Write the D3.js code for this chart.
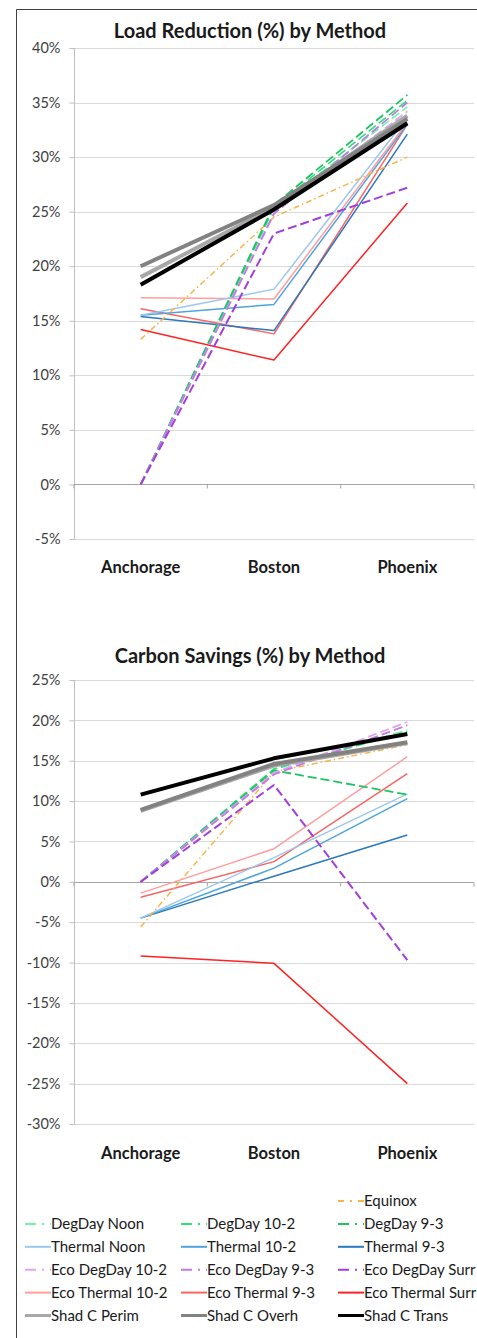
<!DOCTYPE html>
<html><head><meta charset="utf-8">
<script src="https://cdn.jsdelivr.net/npm/d3@7"></script>
<style>body{margin:0;background:#fff}svg{display:block}text{font-family:Lato,"Open Sans",sans-serif}</style>
</head><body>
<svg id="c" width="477" height="1338"></svg>
<script>
const categories = ["Anchorage","Boston","Phoenix"];
const seriesNames = ["Equinox","DegDay Noon","DegDay 10-2","DegDay 9-3","Thermal Noon","Thermal 10-2","Thermal 9-3","Eco DegDay 10-2","Eco DegDay 9-3","Eco DegDay Surr","Eco Thermal 10-2","Eco Thermal 9-3","Eco Thermal Surr","Shad C Perim","Shad C Overh","Shad C Trans"];
// Load reduction (%)
const loadEquinox=[13.3,24.5,30.0];
const loadDegDayNoon=[0,25.3,34.6];
const loadDegDay102=[0,25.4,35.2];
const loadDegDay93=[0,25.6,35.7];
const loadThermalNoon=[15.5,17.9,33.6];
const loadThermal102=[15.5,16.5,33.0];
const loadThermal93=[15.4,14.1,32.1];
const loadEcoDegDay102=[0,24.9,34.2];
const loadEcoDegDay93=[0,24.8,35.0];
const loadEcoDegDaySurr=[0,23.0,27.2];
const loadEcoThermal102=[17.1,17.0,33.2];
const loadEcoThermal93=[16.1,13.8,33.0];
const loadEcoThermalSurr=[14.2,11.4,25.8];
const loadShadPerim=[19.0,25.4,33.8];
const loadShadOverh=[20.0,25.6,33.5];
const loadShadTrans=[18.3,25.2,33.1];
// Carbon savings (%)
const carbEquinox=[-5.6,13.6,17.0];
const carbDegDayNoon=[0,13.9,18.8];
const carbDegDay102=[0,14.0,18.6];
const carbDegDay93=[0,13.8,10.8];
const carbThermalNoon=[-4.5,3.0,10.9];
const carbThermal102=[-4.5,1.7,10.3];
const carbThermal93=[-4.5,0.7,5.8];
const carbEcoDegDay102=[0,13.5,19.8];
const carbEcoDegDay93=[0,13.3,19.4];
const carbEcoDegDaySurr=[0,12.0,-9.7];
const carbEcoThermal102=[-1.4,4.1,15.5];
const carbEcoThermal93=[-1.9,2.5,13.4];
const carbEcoThermalSurr=[-9.2,-10.1,-25.0];
const carbShadPerim=[8.8,14.4,17.2];
const carbShadOverh=[8.9,14.6,17.3];
const carbShadTrans=[10.8,15.3,18.3];
const loadTicks=[40,35,30,25,20,15,10,5,0,-5];
const carbTicks=[25,20,15,10,5,0,-5,-10,-15,-20,-25,-30];

const loadData=[loadEquinox,loadDegDayNoon,loadDegDay102,loadDegDay93,loadThermalNoon,loadThermal102,loadThermal93,loadEcoDegDay102,loadEcoDegDay93,loadEcoDegDaySurr,loadEcoThermal102,loadEcoThermal93,loadEcoThermalSurr,loadShadPerim,loadShadOverh,loadShadTrans];
const carbData=[carbEquinox,carbDegDayNoon,carbDegDay102,carbDegDay93,carbThermalNoon,carbThermal102,carbThermal93,carbEcoDegDay102,carbEcoDegDay93,carbEcoDegDaySurr,carbEcoThermal102,carbEcoThermal93,carbEcoThermalSurr,carbShadPerim,carbShadOverh,carbShadTrans];

const styles = {
 "Equinox":{c:"#F9B54C",w:1.5,d:"6,3,1.5,3"},
 "DegDay Noon":{c:"#6DF5A8",w:1.6,d:"9,4"},
 "DegDay 10-2":{c:"#2EE07A",w:1.6,d:"9,4"},
 "DegDay 9-3":{c:"#1FC462",w:1.8,d:"9,4"},
 "Thermal Noon":{c:"#9CC8EC",w:1.5,d:null},
 "Thermal 10-2":{c:"#4EA4DE",w:1.5,d:null},
 "Thermal 9-3":{c:"#2A78BE",w:1.5,d:null},
 "Eco DegDay 10-2":{c:"#DDA6F2",w:1.8,d:"9,4"},
 "Eco DegDay 9-3":{c:"#C47AE6",w:1.8,d:"9,4"},
 "Eco DegDay Surr":{c:"#A23FDA",w:2,d:"9,4"},
 "Eco Thermal 10-2":{c:"#FF9E9E",w:1.5,d:null},
 "Eco Thermal 9-3":{c:"#FA6464",w:1.5,d:null},
 "Eco Thermal Surr":{c:"#FF2222",w:1.5,d:null},
 "Shad C Perim":{c:"#A8A8A8",w:4,d:null},
 "Shad C Overh":{c:"#828282",w:4,d:null},
 "Shad C Trans":{c:"#000000",w:4,d:null}
};
const legendDash={"Equinox":"6,6,2,6","DegDay Noon":"11,6,2,6","DegDay 10-2":"11,6,2,6","DegDay 9-3":"11,6,2,6","Eco DegDay 10-2":"11,6,2,6","Eco DegDay 9-3":"11,6,2,6","Eco DegDay Surr":"11,6,2,6"};

const svg=d3.select("#c");
svg.append("path").attr("d","M16.5,1338 V9.5 H477").attr("fill","none").attr("stroke","#404040").attr("stroke-width",1);

const x=d3.scalePoint().domain(categories).range([74,474]).padding(0.5);

function chart(title,titleY,data,ticks,yTop,yBot,labelY){
  const y=d3.scaleLinear().domain([ticks[ticks.length-1],ticks[0]]).range([yBot,yTop]);
  const g=svg.append("g");
  g.selectAll(".grid").data(ticks).join("line")
   .attr("x1",74).attr("x2",474).attr("y1",d=>Math.round(y(d))+0.5).attr("y2",d=>Math.round(y(d))+0.5)
   .attr("stroke","#D9D9D9").attr("stroke-width",1);
  const ya=d3.axisLeft(y).tickValues(ticks).tickSize(5).tickFormat(d=>d+"%");
  const yg=g.append("g").attr("transform","translate(74.5,0)").call(ya);
  yg.select(".domain").attr("stroke","#BFBFBF").attr("d",`M0,${y(ticks[0])}V${y(ticks[ticks.length-1])}`);
  yg.selectAll(".tick line").attr("stroke","#BFBFBF");
  yg.selectAll(".tick text").attr("fill","#404040").attr("font-size",14.5).attr("x",-14).attr("font-family","Lato,sans-serif");
  const y0=Math.round(y(0))+0.5;
  g.append("line").attr("x1",74).attr("x2",474).attr("y1",y0).attr("y2",y0).attr("stroke","#A6A6A6");
  const bounds=[74,207.3,340.7,474];
  g.selectAll(".ct").data(bounds).join("line").attr("x1",d=>d).attr("x2",d=>d).attr("y1",y0).attr("y2",y0+4).attr("stroke","#A6A6A6");
  g.selectAll(".cl").data(categories).join("text").attr("x",d=>x(d)).attr("y",labelY).attr("text-anchor","middle")
   .attr("font-size",16.5).attr("font-weight","bold").attr("fill","#1a1a1a").text(d=>d);
  g.append("text").attr("x",250).attr("y",titleY).attr("text-anchor","middle").attr("font-size",20).attr("font-weight","bold").attr("fill","#1a1a1a").text(title);
  const line=d3.line().x((d,i)=>x(categories[i])).y(d=>y(d));
  const order=[12,11,10,6,5,4,0,1,2,3,7,8,9,13,14,15];
  order.forEach(i=>{
    const s=styles[seriesNames[i]];
    g.append("path").datum(data[i]).attr("d",line).attr("fill","none").attr("stroke",s.c)
     .attr("stroke-width",s.w).attr("stroke-dasharray",s.d).attr("stroke-linejoin","round");
  });
}
chart("Load Reduction (%) by Method",38,loadData,loadTicks,48,539,573);
chart("Carbon Savings (%) by Method",663,carbData,carbTicks,680,1124,1159);

const legendRows=[[null,null,"Equinox"],["DegDay Noon","DegDay 10-2","DegDay 9-3"],["Thermal Noon","Thermal 10-2","Thermal 9-3"],["Eco DegDay 10-2","Eco DegDay 9-3","Eco DegDay Surr"],["Eco Thermal 10-2","Eco Thermal 9-3","Eco Thermal Surr"],["Shad C Perim","Shad C Overh","Shad C Trans"]];
const colX=[25,181,338];
const lg=svg.append("g");
legendRows.forEach((row,r)=>{
  const yy=1201+r*22.9;
  row.forEach((name,c)=>{
    if(!name) return;
    const s=styles[name];
    lg.append("line").attr("x1",colX[c]).attr("x2",colX[c]+26).attr("y1",yy).attr("y2",yy)
      .attr("stroke",s.c).attr("stroke-width",s.w>=4?3:2).attr("stroke-dasharray",legendDash[name]||null);
    lg.append("text").attr("x",colX[c]+26).attr("y",yy+5).attr("font-size",15).attr("fill","#1a1a1a").text(name);
  });
});
</script>
</body></html>
